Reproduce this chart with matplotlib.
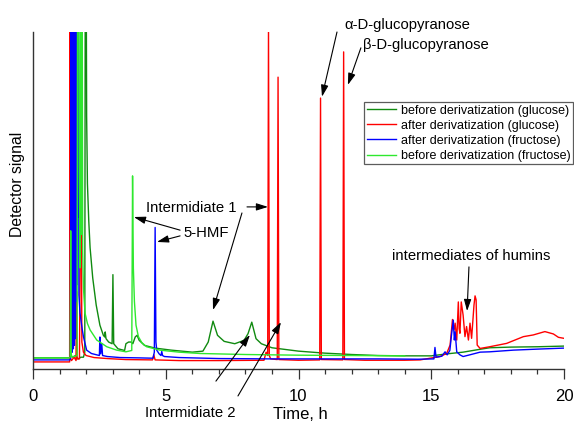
import matplotlib
matplotlib.use("Agg")
import matplotlib.pyplot as plt
from matplotlib.ticker import MultipleLocator

plt.rcParams['font.family'] = ['Liberation Sans', 'DejaVu Sans']

# ---- data (time in h, detector signal in arbitrary units, 0..100 = axis height) ----
t_glc_before = [0, 1.38, 1.42, 1.50, 1.60, 1.70, 1.80, 1.90, 1.95, 1.97, 2.00, 2.02, 2.05, 2.10,
                2.15, 2.25, 2.38, 2.52, 2.65, 2.70, 2.72, 2.75, 2.85, 2.98, 3.01, 3.04, 3.20, 3.45,
                3.50, 3.60, 3.70, 3.76, 3.85, 3.92, 4.00, 4.20, 4.60, 5.20, 6.00, 6.40, 6.60, 6.78,
                6.95, 7.20, 7.60, 7.95, 8.10, 8.24, 8.40, 8.60, 9.00, 10.0, 11.0, 12.0, 13.0, 14.0,
                15.0, 15.6, 16.2, 16.8, 17.2, 18.0, 19.0, 20.0]
y_glc_before = [3.3, 3.3, 4.0, 3.5, 4.0, 3.0, 3.5, 3.5, 5.0, 130, 130, 75, 55, 44,
                36, 27, 19, 13, 10, 9.5, 11, 9.0, 8.0, 7.5, 28, 7.5, 6.0, 5.5,
                7.5, 8.0, 8.0, 7.5, 9.5, 10, 8.5, 7.0, 6.2, 5.6, 5.0, 5.3, 8.0, 14.2,
                10, 8.2, 7.5, 8.5, 10.5, 13.9, 9.0, 7.5, 6.3, 5.3, 4.7, 4.3, 4.0, 3.9,
                3.9, 4.5, 5.0, 5.8, 6.3, 6.5, 6.6, 6.8]

t_glc_after = [0, 1.38, 1.40, 1.42, 1.45, 1.55, 1.62, 1.64, 1.66, 1.75, 1.81, 1.84, 1.90, 2.00,
               2.30, 2.80, 3.50, 4.50, 4.55, 4.60, 5.50, 7.00, 8.70, 8.78, 8.84, 8.87, 8.90, 8.95,
               9.20, 9.23, 9.26, 10.0, 10.80, 10.83, 10.86, 11.67, 11.70, 11.73, 12.5, 14.0, 14.58,
               15.33, 15.58, 15.71, 15.80, 15.86, 15.90, 15.96, 16.02, 16.05, 16.08, 16.13, 16.20,
               16.27, 16.33, 16.40, 16.46, 16.52, 16.61, 16.65, 16.69, 16.73, 16.84, 17.2, 17.84,
               18.47, 18.84, 19.28, 19.60, 19.79, 20.0]
y_glc_after = [2.1, 2.1, 130, 3.0, 2.5, 3.5, 2.5, 23, 3.0, 3.0, 70, 8.0, 5.0, 4.0,
               3.4, 3.1, 2.8, 2.7, 4.2, 2.7, 2.5, 2.5, 2.6, 5.0, 4.0, 102, 4.0, 3.0,
               2.8, 86.6, 2.8, 2.6, 2.7, 80.4, 2.8, 2.7, 94.1, 2.8, 2.6, 2.6, 2.7,
               3.7, 4.6, 7.1, 14.7, 11.6, 13.6, 8.6, 19.9, 12, 10.6, 19.9, 16,
               9.6, 12.6, 8.6, 13.6, 9.1, 19, 21.7, 20.5, 7.1, 6.1, 6.6, 7.6,
               9.6, 10.1, 11.1, 10.4, 9.4, 9.1]

t_fru_after = [0, 1.38, 1.41, 1.43, 1.44, 1.45, 1.46, 1.47, 1.48, 1.49, 1.50, 1.51, 1.52, 1.53,
               1.54, 1.55, 1.56, 1.57, 1.58, 1.59, 1.60, 1.61, 1.62, 1.63, 1.64, 1.65, 1.66, 1.67,
               1.69, 1.71, 1.73, 1.77, 1.85, 1.90, 2.02, 2.20, 2.40, 2.50, 2.52, 2.55, 2.59, 2.62,
               2.80, 3.28, 4.00, 4.52, 4.57, 4.60, 4.63, 4.66, 4.75, 4.82, 4.85, 4.88, 4.95, 5.50,
               7.0, 9.0, 11.0, 13.0, 14.5, 15.10, 15.14, 15.18, 15.40, 15.52, 15.60, 15.70, 15.77,
               15.83, 15.87, 15.90, 15.96, 16.08, 16.20, 16.50, 16.84, 17.2, 18.1, 19.0, 20.0]
y_fru_after = [2.7, 2.7, 3.0, 130, 6, 130, 8, 130, 5, 130, 10, 130, 6, 130,
               12, 130, 7, 130, 15, 130, 9, 130, 20, 130, 30, 130, 25, 130,
               45, 130, 22, 16.6, 12, 9.6, 5.6, 4.6, 4.2, 4.0, 9.5, 4.5, 7.5, 4.0,
               3.7, 3.4, 3.3, 3.2, 5.0, 42, 8.0, 5.6, 4.5, 4.0, 5.2, 4.0, 3.7, 3.4,
               3.1, 3.0, 3.0, 3.0, 2.9, 3.0, 6.4, 3.5, 3.8, 5.1, 4.2, 5.5, 10.6,
               14.5, 8.6, 11, 5.1, 4.2, 3.7, 4.3, 5.0, 5.1, 5.6, 5.9, 6.2]

t_fru_before = [0, 1.38, 1.40, 1.42, 1.44, 1.46, 1.60, 1.66, 1.68, 1.70, 1.72, 1.74, 1.77, 1.80,
                1.82, 1.85, 1.87, 1.90, 1.96, 2.05, 2.15, 2.40, 2.78, 3.15, 3.50, 3.72, 3.75, 3.78,
                3.82, 3.88, 3.97, 4.10, 4.28, 4.78, 5.50, 6.30, 8.0, 10.0, 12.0, 14.0]
y_fru_before = [3.3, 3.3, 3.5, 41, 4.5, 3.6, 3.8, 4.0, 130, 130, 130, 60, 30, 130,
                40, 130, 35, 24, 16.6, 13.5, 11.6, 8.6, 6.6, 5.6, 5.1, 5.5, 57.3, 30,
                20, 13, 9.6, 7.8, 6.6, 5.6, 5.0, 4.6, 4.3, 4.1, 4.0, 3.9]

series_labels = ["before derivatization (glucose)", "after derivatization (glucose)",
                 "after derivatization (fructose)", "before derivatization (fructose)"]
series_colors = ["#108a10", "#ff0000", "#0000ff", "#2ee82e"]
x_major_ticks = [0, 5, 10, 15, 20]

# ---- figure ----
fig = plt.figure(figsize=(5.74, 4.24), dpi=100)
ax = fig.add_axes([33/574, 1 - 369/424, 531/574, 337/424])

series = [(t_glc_before, y_glc_before), (t_glc_after, y_glc_after),
          (t_fru_after, y_fru_after), (t_fru_before, y_fru_before)]
for (tt, yy), lab, col in zip(series, series_labels, series_colors):
    ax.plot(tt, yy, color=col, lw=1.0, label=lab)

ax.set_xlim(0, 20)
ax.set_ylim(0, 100)
ax.set_xticks(x_major_ticks)
ax.set_xticklabels([str(v) for v in x_major_ticks])
ax.xaxis.set_minor_locator(MultipleLocator(1))
ax.set_yticks([])
for s in ['top', 'right']:
    ax.spines[s].set_visible(False)
for s in ['left', 'bottom']:
    ax.spines[s].set_color('#333333')
    ax.spines[s].set_linewidth(1.0)
ax.tick_params(axis='x', which='major', direction='out', length=7.2, width=0.9,
               color='#333333', labelsize=12, pad=7)
ax.tick_params(axis='x', which='minor', direction='out', length=3.5, width=0.9,
               color='#333333')

ax.set_xlabel("Time, h", fontsize=12)
ax.xaxis.set_label_coords(0.503, -0.113)
ax.xaxis.label.set_va('top')
ax.set_ylabel("Detector signal", fontsize=11.3)
ax.yaxis.set_label_coords(-0.015, 0.5475)

leg = ax.legend(loc='upper right', bbox_to_anchor=(1.0164, 0.792), borderaxespad=0,
                fontsize=9, frameon=True, fancybox=False, edgecolor='#333333',
                handlelength=2.3, handletextpad=0.4, labelspacing=0.25, borderpad=0.2)
leg.get_frame().set_linewidth(0.9)

# ---- annotations ----
afs = 10.7
arrow = dict(arrowstyle='-|>,head_length=0.7,head_width=0.22', color='black', lw=0.8,
             shrinkA=0, shrinkB=0)

def arr(tail, head):
    ax.annotate('', xy=head, xytext=tail, arrowprops=arrow, annotation_clip=False)

ax.text(11.71, 102.1, "α-D-glucopyranose", fontsize=afs, ha='left', va='center', clip_on=False)
arr((11.45, 100), (10.885, 80.8))
ax.text(12.43, 96.1, "β-D-glucopyranose", fontsize=afs, ha='left', va='center')
arr((12.35, 95.3), (11.86, 84.3))

ax.text(4.26, 47.8, "Intermidiate 1", fontsize=afs, ha='left', va='center')
arr((8.06, 48.1), (8.85, 48.1))
arr((7.87, 46.3), (6.78, 17.5))

ax.text(5.65, 40.4, "5-HMF", fontsize=afs, ha='left', va='center')
arr((5.54, 41.2), (3.80, 45.1))
arr((5.54, 39.5), (4.67, 37.7))

ax.text(4.22, -13.1, "Intermidiate 2", fontsize=afs, ha='left', va='center', clip_on=False)
arr((6.89, -3.6), (8.17, 10.1))
arr((7.72, -8.0), (9.34, 13.9))

ax.text(13.52, 33.5, "intermediates of humins", fontsize=afs, ha='left', va='center')
arr((16.42, 30.3), (16.35, 17.2))

fig.savefig("out.png", dpi=100)
